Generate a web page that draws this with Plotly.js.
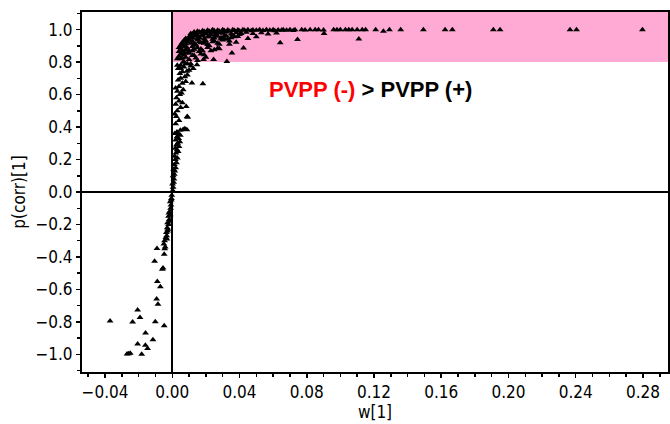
<!DOCTYPE html>
<html>
<head>
<meta charset="utf-8">
<script src="https://cdn.plot.ly/plotly-3.0.1.min.js"></script>
<style>html,body{margin:0;padding:0;background:#fff;}#chart{width:670px;height:424px;}</style>
</head>
<body>
<div id="chart"></div>
<script>
// Top row (p(corr) ~ 1.0)
const wTop = [0.013,0.015,0.016,0.018,0.019,0.021,0.022,0.024,0.025,0.027,0.028,0.03,0.031,0.033,0.034,0.036,0.037,0.039,0.04,0.042,0.043,0.045,0.047,0.048,0.05,0.052,0.054,0.056,0.058,0.06,0.061,0.063,0.065,0.066,0.068,0.07,0.072,0.073,0.077,0.079,0.082,0.085,0.087,0.09,0.096,0.098,0.1,0.103,0.105,0.107,0.11,0.113,0.115,0.121,0.1256,0.1292,0.1359,0.1494,0.1623,0.1666,0.191,0.195,0.2366,0.2405,0.2797];
const pTop = [0.985,0.99,0.982,0.993,0.988,0.996,0.99,0.998,0.992,0.996,0.989,0.998,0.993,0.997,0.99,0.999,0.994,0.997,0.991,0.998,0.995,0.999,0.993,0.997,0.995,0.999,0.994,0.998,0.996,0.999,0.993,0.997,0.995,0.999,0.996,0.998,0.994,0.999,0.998,0.997,0.999,0.998,0.999,0.997,0.999,0.998,0.999,0.999,0.998,0.999,0.999,0.998,0.999,0.999,0.99,0.999,0.999,0.999,0.999,0.999,0.999,0.999,0.999,0.999,0.999];
// Upper band rows
const wBand = [0.011,0.013,0.014,0.016,0.017,0.019,0.02,0.022,0.023,0.025,0.026,0.028,0.03,0.032,0.035,0.038,0.041,0.044,0.048,0.053,0.057,0.062,0.0903,
  0.008,0.01,0.011,0.012,0.013,0.015,0.016,0.018,0.019,0.021,0.023,0.025,0.027,0.029,0.032,0.035,0.039,0.045,0.05,0.111,
  0.005,0.006,0.007,0.008,0.009,0.01,0.011,0.012,0.014,0.015,0.017,0.019,0.021,0.024,0.027,0.03,0.034,0.038,0.0642,0.0745,
  0.004,0.005,0.006,0.007,0.008,0.009,0.01,0.012,0.013,0.015,0.018,0.021,0.025,0.028,0.0424,
  0.003,0.004,0.005,0.006,0.007,0.008,0.01,0.012,0.014,0.017,0.02,0.0325,0.0355];
const pBand = [0.975,0.98,0.972,0.985,0.978,0.982,0.975,0.986,0.979,0.984,0.974,0.981,0.977,0.985,0.973,0.98,0.976,0.983,0.975,0.98,0.972,0.978,0.975,
  0.945,0.955,0.962,0.948,0.958,0.965,0.95,0.96,0.944,0.956,0.966,0.948,0.958,0.942,0.962,0.95,0.957,0.945,0.955,0.942,
  0.905,0.92,0.932,0.912,0.925,0.938,0.915,0.928,0.905,0.935,0.918,0.93,0.908,0.925,0.915,0.935,0.91,0.922,0.918,0.938,
  0.865,0.88,0.87,0.892,0.875,0.885,0.868,0.895,0.878,0.888,0.87,0.89,0.875,0.882,0.887,
  0.82,0.835,0.85,0.825,0.845,0.83,0.855,0.84,0.825,0.85,0.83,0.804,0.856];
// Extra points in the dense cluster
const wExtra = [0.004,0.006,0.008,0.009,0.011,0.013,0.015,0.016,0.018,0.02,0.022,0.024,0.026,0.029,0.031,0.033,0.036,0.04,0.007,0.009,0.012,0.014,0.017,0.019,0.022,0.025,0.028,0.031,0.034,0.037,0.005,0.007,0.01,0.013,0.016,0.019,0.023,0.027,0.003,0.005,0.008,0.011,0.015];
const pExtra = [0.89,0.9,0.895,0.935,0.95,0.91,0.945,0.925,0.97,0.93,0.955,0.94,0.965,0.95,0.96,0.94,0.965,0.97,0.86,0.855,0.87,0.905,0.88,0.915,0.9,0.93,0.91,0.945,0.93,0.955,0.82,0.8,0.815,0.84,0.865,0.845,0.87,0.885,0.78,0.76,0.79,0.775,0.81];
// Rising part (0 to 0.8)
const wMid = [0.0024,0.0089,0.0091,0.0083,0.002,0.004,0.0015,0.003,0.005,0.002,0.004,0.006,0.0025,0.0045,0.003,0.0055,0.0065,0.002,0.004,0.0117,0.0182,0.006,0.008,0.0035,0.005,0.0075,0.009,0.0045,0.0087,0.006,0.01,0.0035,0.007,0.0125,0.0147,0.005,0.009,0.0065,0.011,0.0186,0.0246,
  0.0003,0.0005,0.0002,0.0008,0.001,0.0005,0.0012,0.0015,0.0008,0.002,0.0012,0.0025,0.0018,0.003,0.0015,0.0022,0.0035,0.0028,0.0018,0.004,0.0025,0.0032,0.0045,0.002,0.0038,0.0028,0.0048,0.0015,0.0028,0.0048,0.0087,0.0065,0.0075,0.0035];
const pMid = [0.465,0.465,0.46,0.527,0.42,0.44,0.48,0.5,0.52,0.54,0.56,0.55,0.58,0.6,0.62,0.61,0.63,0.64,0.65,0.671,0.667,0.67,0.68,0.69,0.7,0.71,0.72,0.73,0.743,0.74,0.75,0.76,0.77,0.76,0.784,0.78,0.79,0.8,0.79,0.815,0.815,
  0.01,0.03,0.05,0.06,0.08,0.1,0.11,0.13,0.14,0.15,0.17,0.18,0.2,0.21,0.22,0.24,0.25,0.26,0.27,0.28,0.29,0.3,0.31,0.32,0.33,0.34,0.35,0.36,0.37,0.38,0.383,0.385,0.39,0.36];
// Negative part
const wNeg = [-0.037,-0.0236,-0.0206,-0.0192,-0.0101,-0.0048,-0.0159,-0.0115,-0.0206,-0.016,-0.0147,-0.026,-0.0269,-0.025,-0.0182,-0.0093,-0.0085,-0.0089,-0.0071,-0.0059,-0.0055,-0.0105,-0.0048,-0.0091,-0.0045,-0.0042,-0.005,-0.0046,-0.0038,-0.0033,-0.0035,-0.0028,-0.003,-0.0022,-0.0028,-0.0018,-0.0022,-0.0012,-0.0015,-0.001,-0.0008,-0.0012,-0.0005,-0.0003,-0.0006,-0.002,-0.0015,-0.0032,-0.0026];
const pNeg = [-0.794,-0.8,-0.726,-0.772,-0.798,-0.823,-0.868,-0.909,-0.936,-0.944,-0.963,-0.995,-0.997,-0.993,-0.998,-0.659,-0.691,-0.551,-0.584,-0.475,-0.468,-0.426,-0.383,-0.348,-0.35,-0.338,-0.32,-0.3,-0.28,-0.27,-0.25,-0.24,-0.22,-0.2,-0.19,-0.17,-0.15,-0.14,-0.12,-0.1,-0.08,-0.06,-0.04,-0.02,-0.05,-0.13,-0.18,-0.29,-0.23];

const xTicks = [-0.04,0.00,0.04,0.08,0.12,0.16,0.20,0.24,0.28];
const yTicks = [-1.0,-0.8,-0.6,-0.4,-0.2,0.0,0.2,0.4,0.6,0.8,1.0];

const wx = wTop.concat(wBand, wExtra, wMid, wNeg);
const pc = pTop.concat(pBand, pExtra, pMid, pNeg);

const tickFont = {family: '"DejaVu Sans Condensed", "DejaVu Sans", sans-serif', size: 17, color: '#000'};

const trace = {
  x: wx, y: pc, type: 'scatter', mode: 'markers',
  marker: {symbol: 'triangle-up', size: 6, color: '#000'},
  hoverinfo: 'skip'
};

const layout = {
  width: 670, height: 424,
  margin: {l: 82, r: 2, t: 12, b: 52},
  paper_bgcolor: '#fff', plot_bgcolor: '#fff',
  showlegend: false,
  xaxis: {
    range: [-0.0537, 0.2949], tickvals: xTicks, tickformat: '.2f',
    showgrid: false, zeroline: true, zerolinecolor: '#000', zerolinewidth: 2,
    showline: true, mirror: true, linecolor: '#000', linewidth: 2,
    ticks: 'outside', ticklen: 4, tickcolor: '#000', tickwidth: 1.5,
    minor: {dtick: 0.01, tick0: 0, ticks: 'outside', ticklen: 3, tickcolor: '#000', showgrid: false},
    tickfont: tickFont,
    title: {text: 'w[1]', font: tickFont, standoff: 1}
  },
  yaxis: {
    range: [-1.108, 1.108], tickvals: yTicks, tickformat: '.1f',
    showgrid: false, zeroline: true, zerolinecolor: '#000', zerolinewidth: 2,
    showline: true, mirror: true, linecolor: '#000', linewidth: 2,
    ticks: 'outside', ticklen: 4, tickcolor: '#000', tickwidth: 1.5,
    minor: {dtick: 0.1, tick0: 0, ticks: 'outside', ticklen: 3, tickcolor: '#000', showgrid: false},
    tickfont: tickFont,
    title: {text: 'p(corr)[1]', font: tickFont, standoff: 6}
  },
  shapes: [
    {type: 'rect', xref: 'x', yref: 'y', x0: 0, x1: 0.2949, y0: 0.8, y1: 1.108,
     fillcolor: '#ffaad5', line: {width: 0}, layer: 'below'}
  ],
  annotations: [
    {x: 0.1177, y: 0.63, xref: 'x', yref: 'y', showarrow: false,
     text: '<b><span style="color:#ff0000">PVPP (-)</span> &gt; PVPP (+)</b>',
     font: {family: '"Liberation Sans", Arial, sans-serif', size: 22, color: '#000'}}
  ]
};

Plotly.newPlot('chart', [trace], layout, {displayModeBar: false, staticPlot: true});
</script>
</body>
</html>
